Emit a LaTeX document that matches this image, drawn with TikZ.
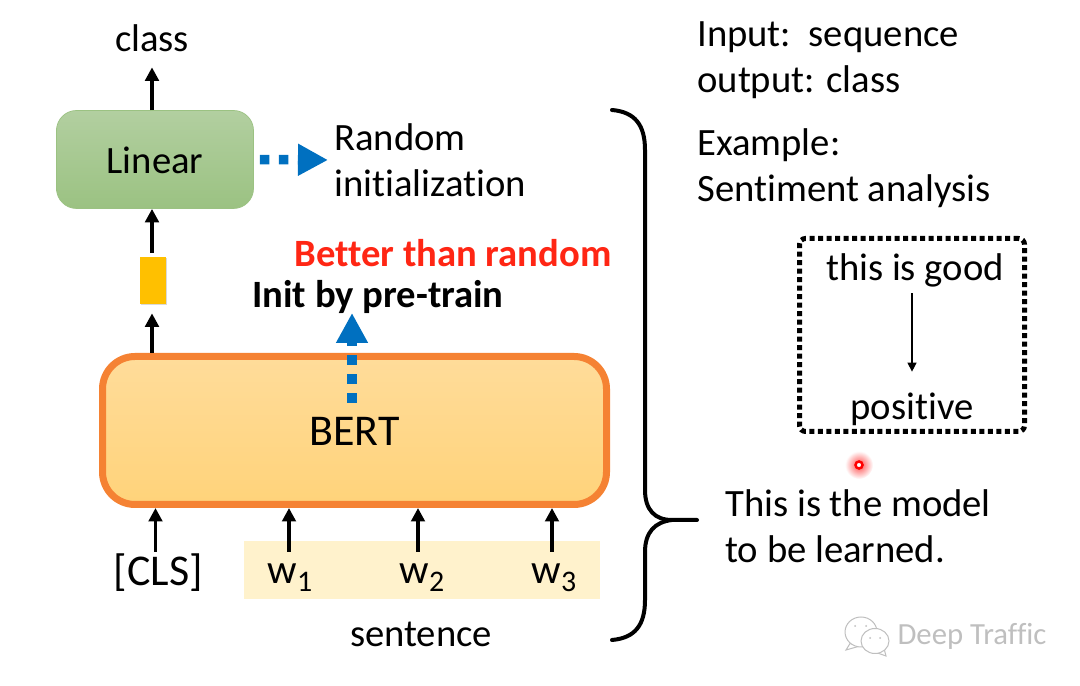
\documentclass[tikz,border=0pt]{standalone}
\usepackage{fontspec}
\setmainfont[Ligatures=NoCommon]{Carlito}
\usetikzlibrary{arrows.meta, shadows}

\definecolor{lineargreen}{HTML}{9BC282}
\definecolor{lineartop}{HTML}{B2CFA0}
\definecolor{bertline}{HTML}{F58233}
\definecolor{berttop}{HTML}{FFDC9A}
\definecolor{bertbottom}{HTML}{FFD37A}
\definecolor{initblue}{HTML}{0070C0}
\definecolor{chipgold}{HTML}{FFC000}
\definecolor{wordband}{HTML}{FFF2CC}
\definecolor{betterred}{HTML}{FF2614}

\newcommand{\wordsub}[1]{w\raisebox{-0.2em}{\fontsize{17}{17}\selectfont #1}}

\tikzset{
    slide/.style={font=\fontsize{22}{26.3}\selectfont, inner sep=0pt, align=left},
    slidebold/.style={font=\fontsize{22}{26.3}\bfseries\selectfont, inner sep=0pt},
    tokenfont/.style={font=\fontsize{25}{26}\selectfont},
    flowarrow/.style={line width=0.07cm, -{Triangle[length=0.27cm, width=0.27cm]}},
    initarrow/.style={initblue, line width=0.19cm, dash pattern=on 0.19cm off 0.19cm,
        -{Triangle[length=0.6cm, width=0.6cm]}},
}

\begin{document}
\begin{tikzpicture}
    \useasboundingbox (0,0) rectangle (21.6,13.72);

    % Output side
    \node[slide, minimum height=1.16cm] (class) at (3.04,12.96) {class};
    \node[slide, minimum width=3.94cm, minimum height=1.96cm, rounded corners=0.4cm, text height=0.58cm,
        draw=lineargreen, top color=lineartop, bottom color=lineargreen] (linear) at (3.1,10.53) {Linear};
    \node[minimum width=0.52cm, minimum height=0.94cm, inner sep=0pt, fill=chipgold,
        drop shadow={opacity=0.3, shadow xshift=0.02cm, shadow yshift=-0.03cm}] (chip) at (3.06,8.11) {};

    % Encoder block
    \node[slide, tokenfont, minimum width=10.08cm, minimum height=2.96cm, rounded corners=0.65cm, text height=0.62cm,
        draw=bertline, line width=0.14cm, top color=berttop, bottom color=bertbottom] (bert) at (7.09,5.11) {BERT};

    % Input tokens
    \fill[wordband] (4.88,1.74) rectangle (12,2.9);
    \node[slide, tokenfont, minimum height=0.84cm] (cls) at (3.17,2.26) {[CLS]};
    \node[slide, font=\fontsize{23.5}{26}\selectfont, minimum height=1.02cm] (w1) at (5.8,2.17) {\wordsub{1}};
    \node[slide, font=\fontsize{23.5}{26}\selectfont, minimum height=1.02cm] (w2) at (8.44,2.17) {\wordsub{2}};
    \node[slide, font=\fontsize{23.5}{26}\selectfont, minimum height=1.02cm] (w3) at (11.08,2.17) {\wordsub{3}};
    \node[slide] (sentence) at (8.42,1.04) {sentence};

    % Black arrows
    \draw[flowarrow] (class.south |- linear.north) -- (class.south);
    \draw[flowarrow, shorten <=0.08cm] (class.south |- chip.north) -- (class.south |- linear.south);
    \draw[flowarrow, shorten >=0.18cm] (class.south |- bert.north) -- (class.south |- chip.south);
    \draw[flowarrow] ([xshift=-0.06cm]cls.north) -- ([xshift=-0.06cm]cls.north |- bert.south);
    \draw[flowarrow] ([xshift=-0.02cm]w1.north) -- ([xshift=-0.02cm]w1.north |- bert.south);
    \draw[flowarrow] ([xshift=-0.08cm]w2.north) -- ([xshift=-0.08cm]w2.north |- bert.south);
    \draw[flowarrow] ([xshift=-0.04cm]w3.north) -- ([xshift=-0.04cm]w3.north |- bert.south);

    % Initialisation notes
    \node[slide, anchor=west] (random) at (6.68,10.52) {Random\\initialization};
    \node[slidebold, text=betterred] (better) at (9.06,8.66) {Better than random};
    \node[slidebold] (pretrain) at (7.56,7.78) {Init by pre-train};
    \coordinate (randomtip) at (6.56,10.52);
    \coordinate (pretrainfoot) at (7.04,5.66);
    \coordinate (pretraintip) at (7.04,7.46);
    \draw[initarrow, shorten <=0.12cm] (linear.east) -- (randomtip);
    \draw[initarrow] (pretrainfoot) -- (pretraintip);

    % Curly bracket
    \draw[line width=0.08cm, line cap=round] (12.24,11.52) .. controls (12.7,11.48) and (12.9,11.22) .. (12.9,10.72)
        -- (12.9,3.92) .. controls (12.9,3.52) and (13.1,3.32) .. (13.44,3.32) -- (13.94,3.32);
    \draw[line width=0.08cm, line cap=round] (13.44,3.32) .. controls (13.1,3.28) and (12.9,3.08) .. (12.9,2.68)
        -- (12.9,1.72) .. controls (12.9,1.22) and (12.7,0.96) .. (12.24,0.92);

    % Right column
    \node[slide, anchor=west] (task) at (13.94,12.51) {Input:\ \ sequence\\output: class};
    \node[slide, anchor=west] (example) at (13.94,10.36) {Example:\\Sentiment analysis};
    \node[minimum width=4.5cm, minimum height=3.86cm, inner sep=0pt, draw, line width=0.1cm,
        dash pattern=on 0.1cm off 0.07cm, rounded corners=0.12cm] (samplebox) at (18.24,7.02) {};
    \node[slide, minimum height=0.92cm] (good) at (18.3,8.32) {this is good};
    \node[slide, minimum height=1.48cm] (positive) at (18.24,5.54) {positive};
    \draw[line width=0.025cm, -{Triangle[length=0.18cm, width=0.18cm]}] (positive.north |- good.south) -- (positive.north);
    \node[slide, anchor=west] (model) at (14.5,3.19) {This is the model\\to be learned.};

    % Laser dot
    \shade[inner color=red!70, outer color=white] (17.18,4.42) circle (0.28);
    \draw[red, line width=0.05cm, fill=white] (17.18,4.42) circle (0.07);

    % Watermark
    \draw[gray!50, line width=0.02cm, fill=white] (17.0,0.85) -- (16.92,0.72) -- (17.2,0.8) -- cycle;
    \draw[gray!50, line width=0.02cm, fill=white] (17.22,1.08) ellipse (0.32 and 0.3);
    \draw[gray!50, line width=0.02cm, fill=white] (17.55,0.66) -- (17.72,0.6) -- (17.68,0.75) -- cycle;
    \draw[gray!50, line width=0.02cm, fill=white] (17.5,0.9) ellipse (0.28 and 0.25);
    \fill[gray!50] (17.1,1.2) circle (0.02) (17.32,1.2) circle (0.02) (17.4,0.96) circle (0.02) (17.6,0.96) circle (0.02);
    \node[font=\fontsize{17.5}{20}\selectfont, text=gray!50, inner sep=0pt] (mark) at (19.44,1) {Deep Traffic};
\end{tikzpicture}
\end{document}
